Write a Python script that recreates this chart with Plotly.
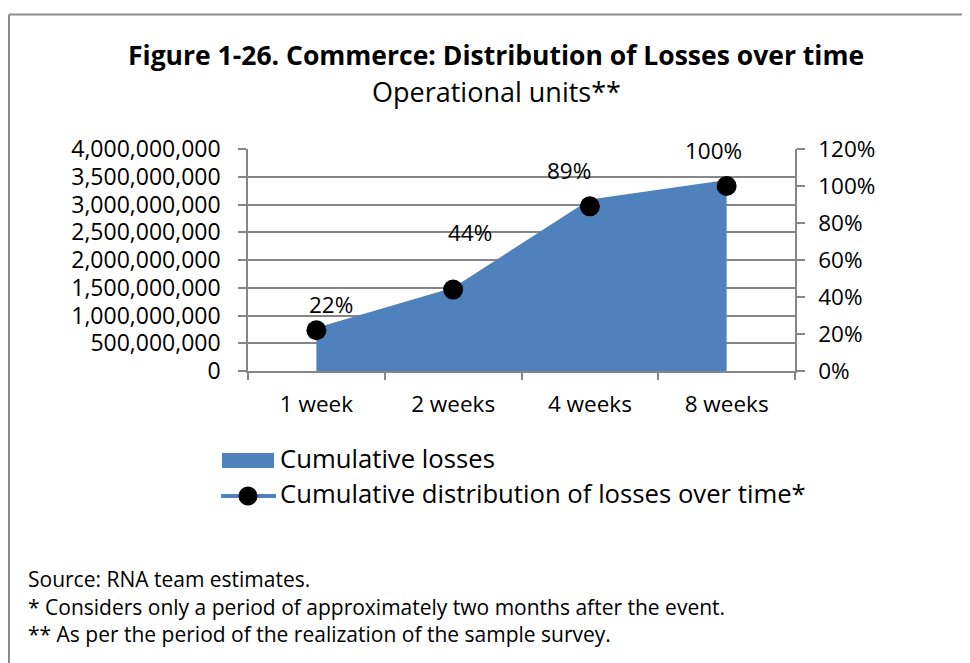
import plotly.graph_objects as go

# ---------------- data ----------------
categories = ["1 week", "2 weeks", "4 weeks", "8 weeks"]
cumulative_losses = [0.78e9, 1.50e9, 3.09e9, 3.44e9]
cumulative_share = [0.22, 0.44, 0.89, 1.00]
series_names = ["Cumulative losses", "Cumulative distribution of losses over time*"]
title_text = "Figure 1-26. Commerce: Distribution of Losses over time"
subtitle_text = "Operational units**"
footnotes = [
    "Source: RNA team estimates.",
    "* Considers only a period of approximately two months after the event.",
    "** As per the period of the realization of the sample survey.",
]

# ---------------- style ----------------
OFF = 8                      # page body margin
W, H = 970 - OFF, 663 - OFF  # figure size
L, R, T, B = 248, 795, 149, 371   # plot area in page pixels
FONT = "Open Sans"
BLUE = "#4F81BD"
GRID = "#868686"
label_shift = [(15, 26), (17, 57), (-21, 36), (-13, 36)]


def px_x(px):
    return (px - L) / (R - L)


def px_y(py):
    return (B - py) / (B - T)


def text_ann(text, x, y, size, anchor="left", bold=False):
    return dict(
        x=px_x(x), y=px_y(y), xref="paper", yref="paper",
        text=f"<b>{text}</b>" if bold else text,
        showarrow=False, xanchor=anchor, yanchor="middle",
        font=dict(family=FONT, size=size, color="black"),
    )


fig = go.Figure()
fig.add_trace(go.Scatter(
    x=categories, y=cumulative_losses, name=series_names[0],
    mode="none", fill="tozeroy", fillcolor=BLUE, showlegend=False,
))
fig.add_trace(go.Scatter(
    x=categories, y=cumulative_share, name=series_names[1], yaxis="y2",
    mode="lines+markers", line=dict(color=BLUE, width=3),
    marker=dict(color="black", size=20), showlegend=False,
))

annotations = []
for c, p, (dx, dy) in zip(categories, cumulative_share, label_shift):
    annotations.append(dict(
        x=c, y=p, xref="x", yref="y2", text=f"{p:.0%}", showarrow=False,
        xshift=dx, yshift=dy, font=dict(family=FONT, size=22.5, color="black"),
    ))

annotations.append(text_ann(title_text, 496, 55, 26.5, anchor="center", bold=True))
annotations.append(text_ann(subtitle_text, 496, 91, 27, anchor="center"))
annotations.append(text_ann(series_names[0], 278, 458.5, 25.7))
annotations.append(text_ann(series_names[1], 278, 493, 25.7))
for i, t in enumerate(footnotes):
    annotations.append(text_ann(t, 26, 579 + 27.5 * i, 21))

shapes = [
    # outer frame (top + left)
    dict(type="line", xref="paper", yref="paper", x0=px_x(9), x1=px_x(1000),
         y0=px_y(14.5), y1=px_y(14.5), line=dict(color="#8c8c8c", width=2)),
    dict(type="line", xref="paper", yref="paper", x0=px_x(9), x1=px_x(9),
         y0=px_y(14.5), y1=px_y(700), line=dict(color="#8c8c8c", width=2)),
    # legend symbols
    dict(type="rect", xref="paper", yref="paper", x0=px_x(222), x1=px_x(274),
         y0=px_y(453), y1=px_y(468), fillcolor=BLUE, line=dict(width=0)),
    dict(type="line", xref="paper", yref="paper", x0=px_x(221), x1=px_x(276),
         y0=px_y(496), y1=px_y(496), line=dict(color=BLUE, width=4)),
    dict(type="circle", xref="paper", yref="paper", x0=px_x(238.5), x1=px_x(257.5),
         y0=px_y(486.5), y1=px_y(505.5), fillcolor="black", line=dict(width=0)),
]

fig.update_layout(
    width=W, height=H,
    margin=dict(l=L - OFF, r=W - (R - OFF), t=T - OFF, b=H - (B - OFF), pad=0),
    paper_bgcolor="white", plot_bgcolor="white",
    showlegend=False,
    xaxis=dict(
        type="category", categoryarray=categories, range=[-0.5, 3.5],
        tickson="boundaries", ticks="outside", ticklen=7, tickcolor=GRID, tickwidth=1.5,
        showline=True, linecolor=GRID, linewidth=1.5, showgrid=False,
        tickfont=dict(family=FONT, size=22.5, color="black"), ticklabelstandoff=12,
    ),
    yaxis=dict(
        range=[0, 4e9], dtick=5e8, tickformat=",d",
        ticks="outside", ticklen=8, tickcolor=GRID, tickwidth=1.5,
        showline=True, linecolor=GRID, linewidth=1.5,
        showgrid=True, gridcolor=GRID, gridwidth=1.5, zeroline=False,
        tickfont=dict(family=FONT, size=23, color="black"), ticklabelstandoff=13,
    ),
    yaxis2=dict(
        overlaying="y", side="right", range=[0, 1.2], dtick=0.2, tickformat=".0%",
        ticks="outside", ticklen=8, tickcolor=GRID, tickwidth=1.5,
        showline=True, linecolor=GRID, linewidth=1.5,
        showgrid=False, zeroline=False,
        tickfont=dict(family=FONT, size=22.5, color="black"), ticklabelstandoff=9,
    ),
    annotations=annotations,
    shapes=shapes,
)

fig.write_html("out.html")
